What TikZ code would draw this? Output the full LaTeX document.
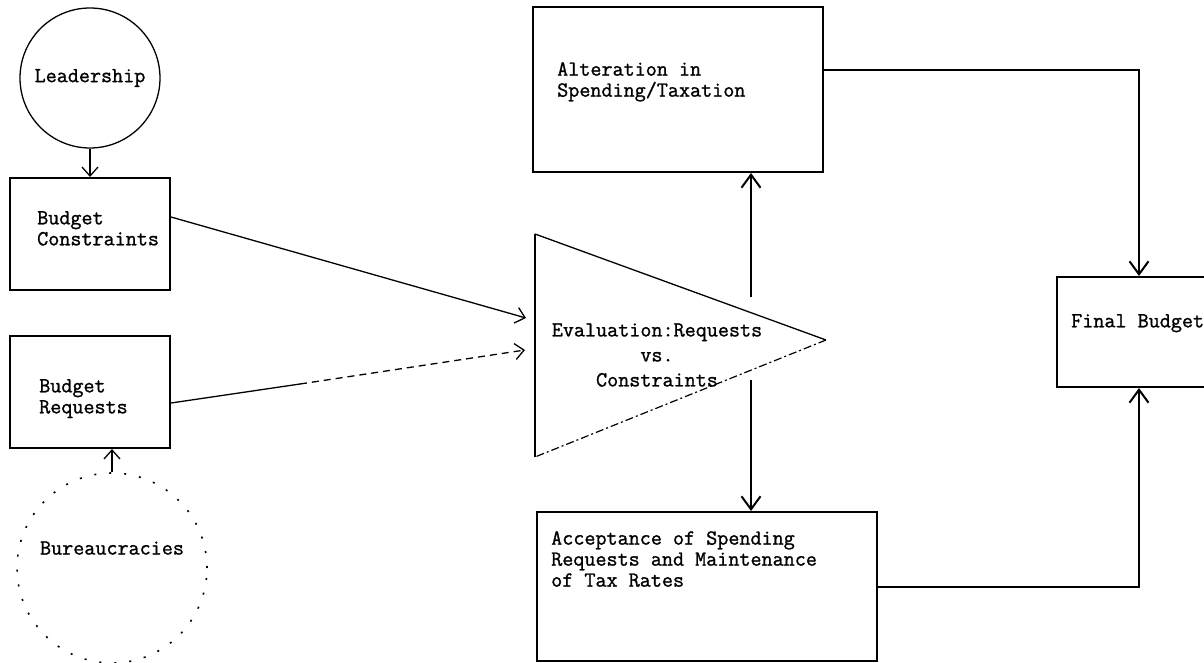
\documentclass[tikz,border=0pt]{standalone}
\usepackage{fontspec}
\setmonofont{Latin Modern Mono}[FakeBold=1.2]
\usepackage{tikz}
\usetikzlibrary{positioning}
\usetikzlibrary{calc,arrows.meta}

\begin{document}
\begin{tikzpicture}
	[   x=1pt,y=-1pt,
		font=\fontsize{21.5}{21}\selectfont\ttfamily\bfseries,
		cnode/.style={draw=black,line width=1.3pt,minimum size=#1,circle,inner sep=0pt},
		bnode/.style={draw=black,line width=2pt,rectangle,inner sep=0pt},
		tnode/.style={anchor=north west,inner sep=0pt,align=left},
	]
	\tikzset{normal arrow/.style={draw,line width=1.3pt,-{Straight Barb[length=9pt,width=16pt]}}}
	\tikzset{heavy arrow/.style={draw,line width=2.6pt,-{Straight Barb[length=13pt,width=19pt,line width=2pt]}}}
	\tikzset{side arrow/.style={draw,line width=2pt,-{Straight Barb[length=13pt,width=19pt]}}}
	\path[use as bounding box,fill=white] (0,0) rectangle (1204,663);
	
	\node[cnode=140pt] (lead) at (90,78) {Leadership};
	\node[cnode=190pt,dash pattern=on 2pt off 13pt,line width=1.6pt,text depth=40pt] (bur) at (112,568) {Bureaucracies};
	
	\node[bnode,minimum width=160pt,minimum height=112pt] (cons) at (90,234) {};
	\node[bnode,minimum width=160pt,minimum height=112pt] (req) at (90,392) {};
	\node[bnode,minimum width=290pt,minimum height=165pt] (alt) at (678,89.5) {};
	\node[bnode,minimum width=340pt,minimum height=149pt] (acc) at (707,586.5) {};
	\node[bnode,minimum width=163pt,minimum height=110pt] (fin) at (1138.5,332) {};
	
	\node[tnode,below right=34pt and 28pt of cons.north west] (cons-t) {Budget\\Constraints};
	\node[tnode,below right=44pt and 30pt of req.north west] (req-t) {Budget\\Requests};
	\node[tnode,below right=56pt and 25pt of alt.north west] (alt-t) {Alteration in\\Spending/Taxation};
	\node[tnode,below right=20pt and 15pt of acc.north west] (acc-t) {Acceptance of Spending\\Requests and Maintenance\\of Tax Rates};
	\node[tnode,below right=38pt and 15pt of fin.north west] (fin-t) {Final Budget};
	
	% evaluation wedge
	\draw[line width=1.3pt] (535,234) coordinate (ev-top) -- (826,340) coordinate (ev-tip);
	\draw[line width=1.2pt,dash pattern=on 8pt off 3pt on 2pt off 3pt] (ev-tip) -- (535,457) coordinate (ev-bot);
	\draw[line width=2.6pt] (ev-bot) -- (ev-top);
	\node[align=center,font=\fontsize{21.5}{25}\selectfont\ttfamily\bfseries] (ev) at (657,355) {Evaluation:Requests\\vs.\\Constraints};
	
	\coordinate (ev-in1) at (526,318);
	\coordinate (ev-in2) at (525,350);
	\coordinate (req-mid) at (300,384);
	\coordinate (ev-up) at (751,297);
	\coordinate (ev-dn) at (751,380);
	\coordinate (fin-in1) at (1139,70);
	\coordinate (fin-in2) at (1139,587);
	
	\path[normal arrow] (lead) -- (cons);
	\path[normal arrow] (bur) -- (bur |- req.south);
	\path[normal arrow] ([yshift=17pt]cons.east) -- (ev-in1);
	\draw[line width=1.3pt] ([yshift=-11pt]req.east) -- (req-mid);
	\path[normal arrow,dash pattern=on 7pt off 5pt] (req-mid) -- (ev-in2);
	\path[heavy arrow] (ev-up) -- (ev-up |- alt.south);
	\path[heavy arrow] (ev-dn) -- (ev-dn |- acc.north);
	\path[side arrow] (alt.east |- fin-in1) -- (fin-in1) -- (fin-in1 |- fin.north);
	\path[side arrow] (acc.east |- fin-in2) -- (fin-in2) -- (fin-in2 |- fin.south);
\end{tikzpicture}
\end{document}
